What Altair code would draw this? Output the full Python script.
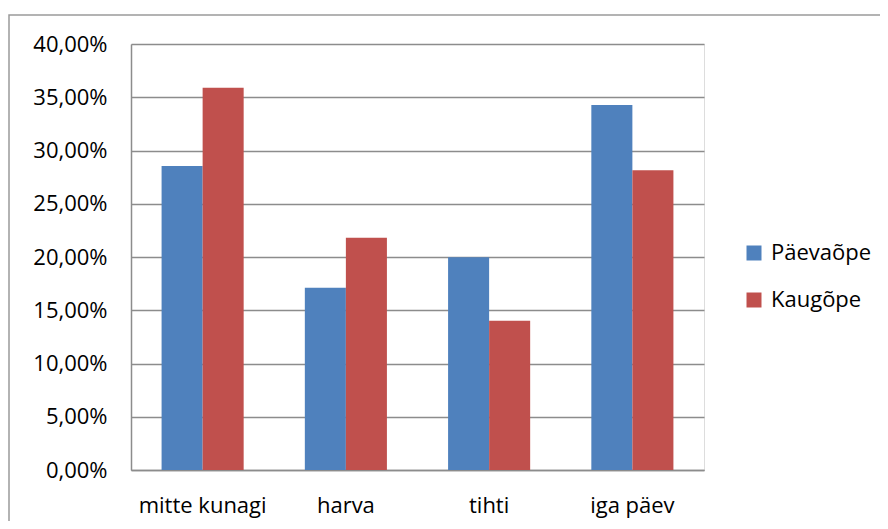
import altair as alt
import pandas as pd

categories = ["mitte kunagi", "harva", "tihti", "iga päev"]
series = ["Päevaõpe", "Kaugõpe"]
paevaope = [0.2855, 0.1712, 0.1997, 0.3427]
kaugope = [0.3590, 0.2180, 0.1402, 0.2814]
colors = ["#4F81BD", "#C0504D"]

rows = []
for c, a, b in zip(categories, paevaope, kaugope):
    rows.append({"cat": c, "series": series[0], "value": a})
    rows.append({"cat": c, "series": series[1], "value": b})
df = pd.DataFrame(rows)

FONT = "Open Sans"
FS = 22

bars = alt.Chart(df).mark_bar().encode(
    x=alt.X("cat:N", sort=categories, title=None,
            scale=alt.Scale(paddingInner=0.427, paddingOuter=0.2135),
            axis=alt.Axis(labelAngle=0, labelFontSize=FS, labelFont=FONT, labelColor="#000000",
                          labelPadding=25, ticks=False, domain=True, domainColor="#8c8c8c",
                          domainWidth=1.5, grid=False)),
    xOffset=alt.XOffset("series:N", sort=series, scale=alt.Scale(paddingInner=0, paddingOuter=0)),
    y=alt.Y("value:Q", title=None,
            scale=alt.Scale(domain=[0, 0.4], nice=False),
            axis=alt.Axis(values=[0, 0.05, 0.1, 0.15, 0.2, 0.25, 0.3, 0.35, 0.4],
                          labelExpr="replace(format(datum.value, '.2%'), '.', ',')",
                          labelFontSize=FS, labelFont=FONT, labelColor="#000000",
                          labelPadding=24, ticks=False, domain=True, domainColor="#8c8c8c",
                          domainWidth=1.5, grid=True, gridColor="#8c8c8c", gridWidth=1.5)),
    color=alt.Color("series:N", sort=series,
                    scale=alt.Scale(domain=series, range=colors),
                    legend=alt.Legend(title=None, orient="none", legendX=612, legendY=198,
                                      symbolType="square", symbolSize=225, symbolStrokeWidth=0,
                                      labelFontSize=FS, labelFont=FONT, labelColor="#000000",
                                      rowPadding=25, labelOffset=6)),
)

frame = alt.Chart(pd.DataFrame({"k": [0]})).mark_rect(
    fill=None, stroke="#9a9a9a", strokeWidth=1.5
).encode(
    x=alt.value(-122), x2=alt.value(800), y=alt.value(-29), y2=alt.value(520)
)

chart = alt.layer(frame, bars).properties(
    width=573, height=426,
    autosize=alt.AutoSizeParams(type="none"),
    padding={"left": 123, "top": 36, "right": 176, "bottom": 51},
).configure_view(stroke=None).configure(background="white")

chart.save("out.html", embed_options={"renderer": "svg", "actions": False})
